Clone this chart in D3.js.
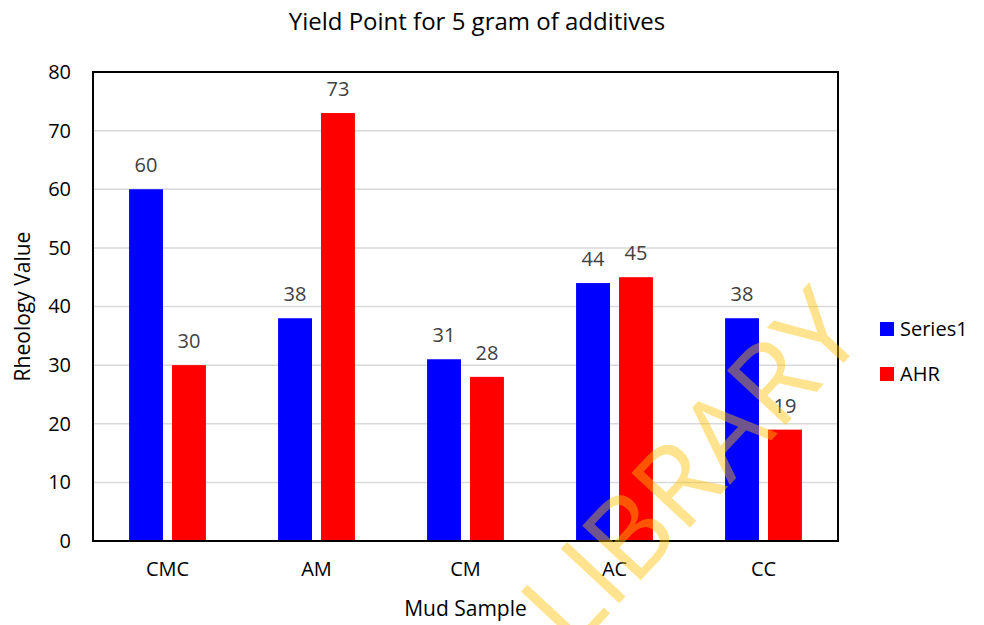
<!DOCTYPE html>
<html>
<head>
<meta charset="utf-8">
<script src="https://cdn.jsdelivr.net/npm/d3@7"></script>
<style>
  body { margin: 0; background: #fff; }
  text { font-family: "Open Sans", "Noto Sans", sans-serif; }
</style>
</head>
<body>
<div id="chart"></div>
<script>
// chart data
var categories = ["CMC", "AM", "CM", "AC", "CC"];
var seriesNames = ["Series1", "AHR"];
var series1 = [60, 38, 31, 44, 38];
var ahr = [30, 73, 28, 45, 19];
var yTicks = [0, 10, 20, 30, 40, 50, 60, 70, 80];

var colors = { Series1: "#0000ff", AHR: "#ff0000" };

var svgWidth = 984;
var svgHeight = 625;

// plot area box
var plot = { left: 93, right: 838, top: 72, bottom: 541 };

var svg = d3.select("#chart")
  .append("svg")
  .attr("width", svgWidth)
  .attr("height", svgHeight);

var rows = categories.map(function(c, i) {
  return { cat: c, Series1: series1[i], AHR: ahr[i] };
});

var x0 = d3.scaleBand()
  .domain(categories)
  .range([plot.left, plot.right])
  .padding(0);

var x1 = d3.scaleBand()
  .domain(seriesNames)
  .range([0, x0.bandwidth()])
  .paddingInner(0.21)
  .paddingOuter(0.84);

var y = d3.scaleLinear()
  .domain([0, 80])
  .range([plot.bottom, plot.top]);

// gridlines
svg.append("g")
  .selectAll("line")
  .data(yTicks.slice(1, -1))
  .enter()
  .append("line")
  .attr("x1", plot.left)
  .attr("x2", plot.right)
  .attr("y1", d => y(d))
  .attr("y2", d => y(d))
  .attr("stroke", "#d9d9d9")
  .attr("stroke-width", 1.5);

// bars
var groups = svg.append("g")
  .selectAll("g")
  .data(rows)
  .enter()
  .append("g")
  .attr("transform", d => `translate(${x0(d.cat)},0)`);

groups.selectAll("rect")
  .data(d => seriesNames.map(k => ({ key: k, value: d[k] })))
  .enter()
  .append("rect")
  .attr("x", d => x1(d.key))
  .attr("y", d => y(d.value))
  .attr("width", x1.bandwidth())
  .attr("height", d => y(0) - y(d.value))
  .attr("fill", d => colors[d.key]);

// data labels
groups.selectAll("text")
  .data(d => seriesNames.map(k => ({ key: k, value: d[k] })))
  .enter()
  .append("text")
  .attr("x", d => x1(d.key) + x1.bandwidth() / 2)
  .attr("y", d => y(d.value) - 17)
  .attr("text-anchor", "middle")
  .style("font-size", "20px")
  .style("fill", "#404040")
  .text(d => d.value);

// frame
svg.append("rect")
  .attr("x", plot.left)
  .attr("y", plot.top)
  .attr("width", plot.right - plot.left)
  .attr("height", plot.bottom - plot.top)
  .attr("fill", "none")
  .attr("stroke", "#000")
  .attr("stroke-width", 2);

// y axis
var leftAxis = d3.axisLeft(y).tickValues(yTicks).tickSize(0).tickPadding(22);
svg.append("g")
  .attr("transform", `translate(${plot.left},0)`)
  .call(leftAxis)
  .call(g => g.select(".domain").remove())
  .selectAll("text")
  .style("font-size", "20px")
  .style("fill", "#000")
  .style("font-family", "'Open Sans', 'Noto Sans', sans-serif");

// x axis
var bottomAxis = d3.axisBottom(x0).tickSize(0).tickPadding(21);
svg.append("g")
  .attr("transform", `translate(0,${plot.bottom})`)
  .call(bottomAxis)
  .call(g => g.select(".domain").remove())
  .selectAll("text")
  .style("font-size", "20px")
  .style("fill", "#000")
  .style("font-family", "'Open Sans', 'Noto Sans', sans-serif");

// title
svg.append("text")
  .attr("x", 477)
  .attr("y", 30)
  .attr("text-anchor", "middle")
  .style("font-size", "24px")
  .style("fill", "#000")
  .text("Yield Point for 5 gram of additives");

// axis titles
svg.append("text")
  .attr("transform", "translate(30," + ((plot.top + plot.bottom) / 2) + ") rotate(-90)")
  .attr("text-anchor", "middle")
  .style("font-size", "21px")
  .text("Rheology Value");

svg.append("text")
  .attr("x", (plot.left + plot.right) / 2)
  .attr("y", 616)
  .attr("text-anchor", "middle")
  .style("font-size", "21px")
  .text("Mud Sample");

// legend
var legend = svg.append("g")
  .selectAll("g")
  .data(seriesNames)
  .enter()
  .append("g")
  .attr("transform", (d, i) => `translate(880,${322 + i * 45})`);

legend.append("rect")
  .attr("width", 14)
  .attr("height", 14)
  .attr("fill", d => colors[d]);

legend.append("text")
  .attr("x", 20)
  .attr("y", 14)
  .style("font-size", "20px")
  .text(d => d);

// watermark
svg.append("text")
  .attr("transform", "translate(572,654) rotate(-47)")
  .style("font-size", "112px")
  .style("fill", "#ffc000")
  .style("opacity", 0.44)
  .style("font-family", "'Open Sans', sans-serif")
  .text("LIBRARY");
</script>
</body>
</html>
